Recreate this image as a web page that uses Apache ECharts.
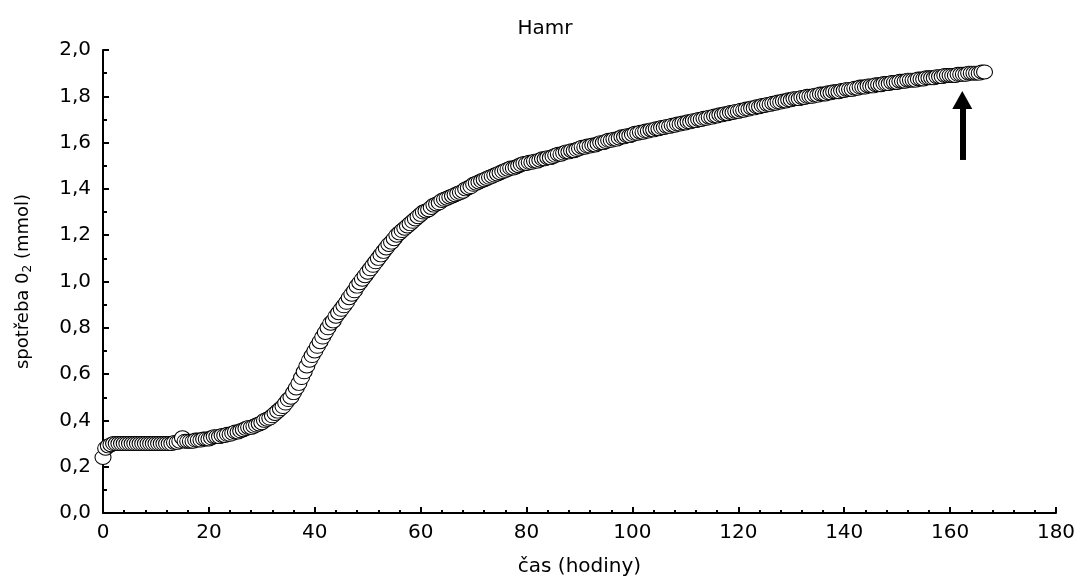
<!DOCTYPE html>
<html>
<head>
<meta charset="utf-8">
<script src="https://cdn.jsdelivr.net/npm/echarts@6/dist/echarts.min.js"></script>
<style>
  html, body { margin: 0; padding: 0; background: #fff; }
  #chart { width: 1087px; height: 581px; }
</style>
</head>
<body>
<div id="chart"></div>
<script>
// měření každou půlhodinu od t = 0 h
const startHour = 0;
const stepHours = 0.5;
const o2Values = [
  0.24, 0.28, 0.29, 0.295, 0.30, 0.30, 0.30, 0.30, 0.30, 0.30, 0.30, 0.30, 0.30, 0.30, 0.30, 0.30, 0.30, 0.30, 0.30, 0.30,
  0.30, 0.30, 0.30, 0.30, 0.30, 0.30, 0.30, 0.305, 0.305, 0.31, 0.325, 0.31, 0.31, 0.31, 0.31, 0.315, 0.315, 0.315, 0.32, 0.32,
  0.32, 0.325, 0.33, 0.33, 0.33, 0.335, 0.335, 0.34, 0.34, 0.345, 0.35, 0.35, 0.355, 0.36, 0.365, 0.37, 0.37, 0.375, 0.38, 0.385,
  0.39, 0.40, 0.405, 0.41, 0.42, 0.43, 0.44, 0.45, 0.46, 0.475, 0.49, 0.50, 0.52, 0.54, 0.56, 0.585, 0.61, 0.635, 0.66, 0.68,
  0.70, 0.72, 0.74, 0.76, 0.78, 0.80, 0.82, 0.83, 0.85, 0.865, 0.88, 0.895, 0.91, 0.93, 0.945, 0.96, 0.98, 0.995, 1.01, 1.025,
  1.04, 1.055, 1.07, 1.085, 1.10, 1.115, 1.13, 1.145, 1.16, 1.17, 1.185, 1.20, 1.21, 1.22, 1.23, 1.24, 1.25, 1.26, 1.27, 1.28,
  1.29, 1.30, 1.305, 1.31, 1.32, 1.33, 1.335, 1.34, 1.35, 1.355, 1.36, 1.365, 1.37, 1.375, 1.38, 1.385, 1.39, 1.40, 1.405, 1.41,
  1.42, 1.425, 1.43, 1.435, 1.44, 1.445, 1.45, 1.455, 1.46, 1.465, 1.47, 1.475, 1.48, 1.485, 1.49, 1.49, 1.495, 1.50, 1.505, 1.51,
  1.51, 1.515, 1.515, 1.52, 1.52, 1.525, 1.53, 1.53, 1.535, 1.535, 1.54, 1.545, 1.55, 1.55, 1.555, 1.56, 1.56, 1.565, 1.565, 1.57,
  1.575, 1.58, 1.58, 1.585, 1.585, 1.59, 1.59, 1.595, 1.60, 1.60, 1.605, 1.61, 1.61, 1.615, 1.615, 1.62, 1.625, 1.625, 1.63, 1.63,
  1.635, 1.64, 1.64, 1.645, 1.645, 1.65, 1.65, 1.655, 1.655, 1.66, 1.66, 1.665, 1.665, 1.67, 1.67, 1.675, 1.675, 1.68, 1.68, 1.685,
  1.685, 1.69, 1.69, 1.695, 1.695, 1.70, 1.70, 1.705, 1.705, 1.71, 1.71, 1.715, 1.715, 1.72, 1.72, 1.725, 1.725, 1.73, 1.73, 1.735,
  1.735, 1.74, 1.74, 1.745, 1.745, 1.75, 1.75, 1.755, 1.755, 1.76, 1.76, 1.765, 1.765, 1.77, 1.77, 1.775, 1.775, 1.78, 1.78, 1.785,
  1.785, 1.79, 1.79, 1.79, 1.795, 1.795, 1.80, 1.80, 1.80, 1.805, 1.805, 1.81, 1.81, 1.81, 1.815, 1.815, 1.82, 1.82, 1.82, 1.825,
  1.825, 1.83, 1.83, 1.83, 1.835, 1.835, 1.84, 1.84, 1.84, 1.845, 1.845, 1.845, 1.85, 1.85, 1.85, 1.855, 1.855, 1.855, 1.86, 1.86,
  1.86, 1.865, 1.865, 1.865, 1.87, 1.87, 1.87, 1.87, 1.875, 1.875, 1.875, 1.88, 1.88, 1.88, 1.88, 1.885, 1.885, 1.885, 1.89, 1.89,
  1.89, 1.89, 1.89, 1.895, 1.895, 1.895, 1.895, 1.90, 1.90, 1.90, 1.90, 1.90, 1.905, 1.905
];
// šipka (konec sběru dat)
const arrowFrom = [162.3, 1.525];
const arrowTo = [162.3, 1.784];

const fmt = v => v.toFixed(1).replace('.', ',');
const data = o2Values.map((v, i) => [startHour + i * stepHours, v]);

const axisBlack = { lineStyle: { color: '#000', width: 2 } };
const font = 'DejaVu Sans, Verdana, sans-serif';

const option = {
  animation: false,
  title: {
    text: 'Hamr',
    left: 540,
    top: 14,
    textAlign: 'center',
    textStyle: { fontFamily: font, fontSize: 20, fontWeight: 'normal', color: '#000' },
  },
  grid: { left: 103, right: 31, top: 50, bottom: 68, outerBoundsMode: 'none', containLabel: false },
  xAxis: {
    type: 'value',
    min: 0,
    max: 180,
    interval: 20,
    name: 'čas (hodiny)',
    nameLocation: 'middle',
    nameGap: 44,
    nameTextStyle: { fontFamily: font, fontSize: 20, color: '#000' },
    axisLine: axisBlack,
    axisTick: { inside: true, length: 6, lineStyle: { color: '#000', width: 2 } },
    minorTick: { show: true, splitNumber: 5, length: 3, lineStyle: { color: '#000', width: 2 } },
    axisLabel: { fontFamily: font, fontSize: 20, color: '#000', margin: 10 },
    splitLine: { show: false },
  },
  yAxis: {
    type: 'value',
    min: 0,
    max: 2,
    interval: 0.2,
    name: '{a|spotřeba 0}{s|2}{a| (mmol)}',
    nameLocation: 'middle',
    nameGap: 69,
    nameTextStyle: {
      rich: {
        a: { fontFamily: font, fontSize: 18, color: '#000' },
        s: { fontFamily: font, fontSize: 12, color: '#000', padding: [10, 0, 0, 0] },
      },
    },
    axisLine: axisBlack,
    axisTick: { inside: true, length: 6, lineStyle: { color: '#000', width: 2 } },
    minorTick: { show: true, splitNumber: 2, length: 4, lineStyle: { color: '#000', width: 2 } },
    axisLabel: { fontFamily: font, fontSize: 20, color: '#000', margin: 12, formatter: fmt },
    splitLine: { show: false },
  },
  series: [{
    type: 'scatter',
    data,
    symbol: 'path://M1,0A1,1 0 1,1 -1,0A1,1 0 1,1 1,0Z',
    symbolSize: [16, 14],
    itemStyle: { color: '#fff', borderColor: '#000', borderWidth: 1, opacity: 1 },
    emphasis: { disabled: true },
    silent: true,
    markLine: {
      silent: true,
      animation: false,
      symbol: ['none', 'triangle'],
      symbolSize: [20, 18],
      label: { show: false },
      lineStyle: { color: '#000', width: 6, type: 'solid' },
      emphasis: { disabled: true },
      data: [[{ coord: arrowFrom }, { coord: arrowTo }]],
    },
  }],
};

const chart = echarts.init(document.getElementById('chart'));
chart.setOption(option);
</script>
</body>
</html>
